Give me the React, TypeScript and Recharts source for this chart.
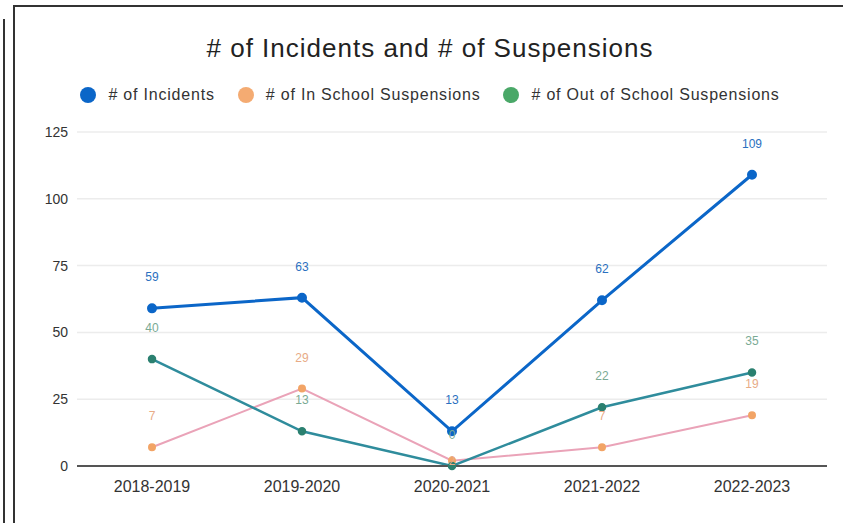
import React from "react";
import {
  LineChart,
  Line,
  XAxis,
  YAxis,
  CartesianGrid,
  LabelList,
} from "recharts";

const years = ["2018-2019", "2019-2020", "2020-2021", "2021-2022", "2022-2023"];
const incidents = [59, 63, 13, 62, 109];
const inSchool = [7, 29, 2, 7, 19];
const outOfSchool = [40, 13, 0, 22, 35];
const yTicks = [0, 25, 50, 75, 100, 125];

const data = years.map((year, i) => ({
  year,
  incidents: incidents[i],
  inSchool: inSchool[i],
  outOfSchool: outOfSchool[i],
}));

const FONT = "'Liberation Sans', Arial, sans-serif";

const legendItems = [
  { label: "# of Incidents", color: "#0b66c8" },
  { label: "# of In School Suspensions", color: "#f4ab72" },
  { label: "# of Out of School Suspensions", color: "#4aa868" },
];

function ChartLegend() {
  return (
    <div
      style={{
        position: "absolute",
        left: 0,
        top: 86,
        width: 860,
        display: "flex",
        justifyContent: "center",
        alignItems: "center",
        gap: 23,
        fontFamily: FONT,
        fontSize: 16,
        letterSpacing: 0.8,
        color: "#333",
      }}
    >
      {legendItems.map((it) => (
        <div key={it.label} style={{ display: "flex", alignItems: "center" }}>
          <span
            style={{
              width: 16,
              height: 16,
              borderRadius: "50%",
              background: it.color,
              marginRight: 12,
              display: "inline-block",
            }}
          />
          {it.label}
        </div>
      ))}
    </div>
  );
}

// value labels sit ~30px above the point
const makeLabel = (color: string, onPoint: number[] = []) => (props: any) => {
  const { x, y, value, index } = props;
  const dy = onPoint.includes(index) ? 4 : -27;
  return (
    <text
      x={x}
      y={y + dy}
      textAnchor="middle"
      fontFamily={FONT}
      fontSize={12}
      fill={color}
    >
      {value}
    </text>
  );
};

export default function App() {
  return (
    <div
      style={{
        position: "absolute",
        left: 0,
        top: 0,
        width: 843,
        height: 523,
        background: "#fff",
        overflow: "hidden",
      }}
    >
      {/* scan frame */}
      <div
        style={{
          position: "absolute",
          left: 3,
          top: 19,
          width: 2,
          height: 504,
          background: "#333",
        }}
      />
      <div
        style={{
          position: "absolute",
          left: 13,
          top: 5,
          width: 840,
          height: 520,
          borderTop: "2px solid #333",
          borderLeft: "2px solid #333",
          boxSizing: "border-box",
        }}
      />
      <div
        style={{
          position: "absolute",
          left: 0,
          top: 33,
          width: 860,
          textAlign: "center",
          fontFamily: FONT,
          fontSize: 26,
          letterSpacing: 1,
          color: "#222",
        }}
      >
        # of Incidents and # of Suspensions
      </div>
      <ChartLegend />
      <LineChart
        width={843}
        height={523}
        data={data}
        margin={{ top: 132, right: 16, bottom: 27, left: 0 }}
        style={{ position: "absolute", left: 0, top: 0 }}
      >
        <CartesianGrid vertical={false} stroke="#ececec" strokeWidth={1.5} />
        <XAxis
          dataKey="year"
          height={30}
          padding={{ left: 75, right: 75 }}
          axisLine={{ stroke: "#555", strokeWidth: 2 }}
          tickLine={false}
          tickSize={0}
          tickMargin={15}
          tick={{ fontFamily: FONT, fontSize: 16, fill: "#333" }}
        />
        <YAxis
          width={77}
          domain={[0, 125]}
          ticks={yTicks}
          axisLine={false}
          tickLine={false}
          tickSize={0}
          tickMargin={9}
          tick={{ fontFamily: FONT, fontSize: 14, fill: "#333" }}
        />
        <Line
          dataKey="inSchool"
          name="# of In School Suspensions"
          stroke="#eaa3b8"
          strokeWidth={2}
          dot={{ r: 3, fill: "#f2a466", stroke: "#f2a466" }}
          isAnimationActive={false}
        >
          <LabelList dataKey="inSchool" content={makeLabel("#e8ab86", [2])} />
        </Line>
        <Line
          dataKey="outOfSchool"
          name="# of Out of School Suspensions"
          stroke="#2f8c9c"
          strokeWidth={2.5}
          dot={{ r: 3, fill: "#2b8070", stroke: "#2b8070" }}
          isAnimationActive={false}
        >
          <LabelList dataKey="outOfSchool" content={makeLabel("#7aaa94")} />
        </Line>
        <Line
          dataKey="incidents"
          name="# of Incidents"
          stroke="#0b66c8"
          strokeWidth={3}
          dot={{ r: 3.5, fill: "#0b66c8", stroke: "#0b66c8" }}
          isAnimationActive={false}
        >
          <LabelList dataKey="incidents" content={makeLabel("#2a70c0")} />
        </Line>
      </LineChart>
    </div>
  );
}
